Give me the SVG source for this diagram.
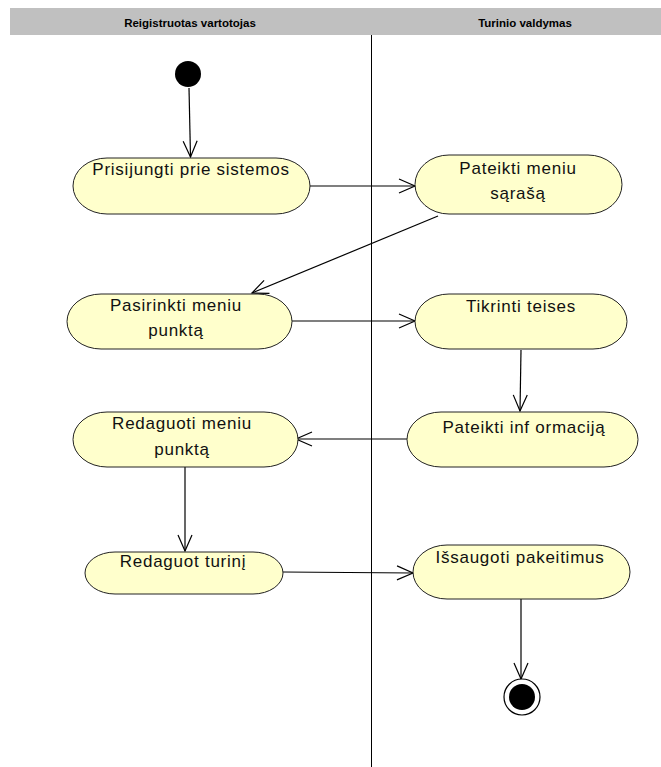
<svg xmlns="http://www.w3.org/2000/svg" width="661" height="767" viewBox="0 0 661 767">
  <style>
    .lane-title { font-family: "Liberation Sans", Arial, sans-serif; font-size: 11.5px; font-weight: bold; fill: #000; text-anchor: middle; }
    .act rect { fill: #ffffcc; stroke: #222; stroke-width: 1; }
    .act text { font-family: "Liberation Sans", Arial, sans-serif; font-size: 17px; letter-spacing: 0.75px; fill: #111; text-anchor: middle; }
    .flow { stroke: #000; stroke-width: 1.2; fill: none; marker-end: url(#open-arrow); }
  </style>
  <defs>
    <marker id="open-arrow" markerUnits="userSpaceOnUse" markerWidth="20" markerHeight="18" refX="16" refY="7" orient="auto" overflow="visible">
      <path d="M0,0 L16,7 L0,14" fill="none" stroke="#000" stroke-width="1.2"/>
    </marker>
  </defs>

  <rect width="661" height="767" fill="#fff"/>

  <!-- swimlane header and separator -->
  <g id="lanes">
    <rect x="10" y="8" width="651" height="27" fill="#c0c0c0"/>
    <text class="lane-title" x="190" y="27">Reigistruotas vartotojas</text>
    <text class="lane-title" x="525" y="27">Turinio valdymas</text>
    <line x1="371.5" y1="35" x2="371.5" y2="767" stroke="#000" stroke-width="1"/>
  </g>

  <!-- control flows -->
  <g id="connectors">
    <line class="flow" x1="189" y1="88" x2="190.5" y2="157"/>
    <line class="flow" x1="310" y1="186" x2="415" y2="186"/>
    <line class="flow" x1="438" y1="216" x2="252" y2="293"/>
    <line class="flow" x1="292" y1="321" x2="415" y2="321"/>
    <line class="flow" x1="521" y1="350" x2="520" y2="411"/>
    <line class="flow" x1="407" y1="439" x2="296" y2="439"/>
    <line class="flow" x1="185" y1="467" x2="185" y2="551"/>
    <line class="flow" x1="283" y1="572" x2="413" y2="573"/>
    <line class="flow" x1="521" y1="599" x2="521" y2="679"/>
  </g>

  <!-- start / end -->
  <g id="start">
    <circle cx="188" cy="74" r="13" fill="#000"/>
  </g>
  <g id="end">
    <circle cx="522" cy="697" r="18" fill="#fff" stroke="#000" stroke-width="1.2"/>
    <circle cx="522" cy="697" r="13" fill="#000"/>
  </g>

  <!-- activities -->
  <g id="prisijungti" class="act">
    <rect x="73" y="158" width="237" height="56" rx="34" ry="28"/>
    <text x="191" y="175">Prisijungti prie sistemos</text>
  </g>
  <g id="pateikti-meniu" class="act">
    <rect x="415" y="155" width="207" height="59" rx="34" ry="29.5"/>
    <text x="518" y="174">Pateikti meniu</text>
    <text x="518" y="199">sąrašą</text>
  </g>
  <g id="pasirinkti" class="act">
    <rect x="67" y="294" width="225" height="55" rx="34" ry="27.5"/>
    <text x="176" y="311">Pasirinkti meniu</text>
    <text x="176" y="336">punktą</text>
  </g>
  <g id="tikrinti" class="act">
    <rect x="415" y="294" width="212" height="55" rx="34" ry="27.5"/>
    <text x="521" y="312">Tikrinti teises</text>
  </g>
  <g id="pateikti-info" class="act">
    <rect x="407" y="412" width="231" height="55" rx="34" ry="27.5"/>
    <text x="524" y="433">Pateikti inf ormaciją</text>
  </g>
  <g id="redaguoti-meniu" class="act">
    <rect x="73" y="412" width="225" height="55" rx="34" ry="27.5"/>
    <text x="182" y="429">Redaguoti meniu</text>
    <text x="182" y="455">punktą</text>
  </g>
  <g id="redaguot-turini" class="act">
    <rect x="85" y="552" width="198" height="42" rx="30" ry="21"/>
    <text x="183" y="567">Redaguot turinį</text>
  </g>
  <g id="issaugoti" class="act">
    <rect x="413" y="545" width="217" height="54" rx="34" ry="27"/>
    <text x="520" y="563">Išsaugoti pakeitimus</text>
  </g>
</svg>
